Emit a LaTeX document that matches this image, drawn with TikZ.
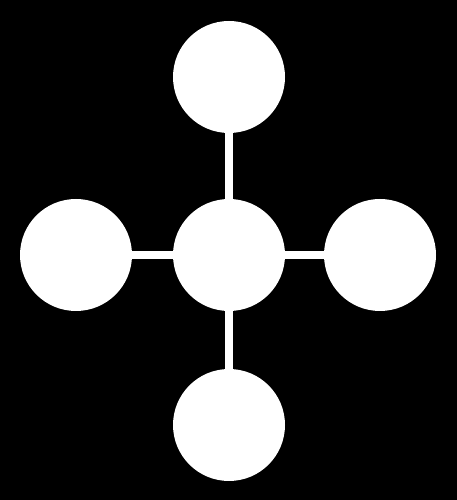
\documentclass[tikz,border=0pt]{standalone}
\usepackage{tikz}
\usetikzlibrary{positioning}

\tikzset{
  blob/.style={circle,fill=white,minimum size=112pt,inner sep=0pt},
  link/.style={white,line width=8.5pt}
}

\begin{document}
\begin{tikzpicture}[x=1pt,y=1pt]
        \fill[black] (0,0) rectangle (457,500);
        \useasboundingbox (0,0) rectangle (457,500);
        \node[blob] (hub) at (229,245) {};
        \node[blob] (up) at (229,423) {};
        \node[blob] (down) at (229,75) {};
        \node[blob] (west) at (76,245) {};
        \node[blob] (east) at (380,245) {};
        \draw[link] (hub) -- (up);
        \draw[link] (hub) -- (down);
        \draw[link] (hub) -- (west);
        \draw[link] (hub) -- (east);
        \end{tikzpicture}
\end{document}
